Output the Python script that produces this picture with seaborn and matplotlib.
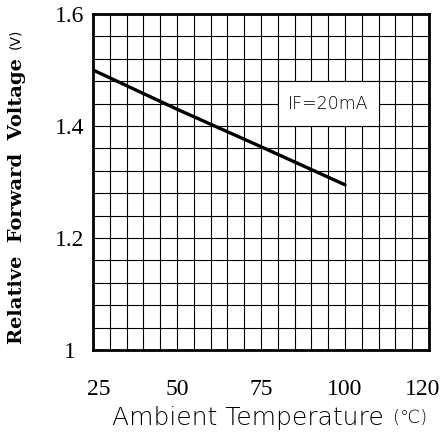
import numpy as np
import pandas as pd
import seaborn as sns
import matplotlib.pyplot as plt
import matplotlib.transforms as mtransforms
from matplotlib.patches import Rectangle

# values
temp = [25, 50, 75, 100]
vf = [1.50, 1.430, 1.363, 1.295]
x_ticks = [25, 50, 75, 100, 125]
x_ticklabels = ['25', '50', '75', '100', '120']
y_ticks = [1.0, 1.2, 1.4, 1.6]
y_ticklabels = ['1', '1.2', '1.4', '1.6']

df = pd.DataFrame({'temp': temp, 'vf': vf})

sns.set_style("white")
plt.rcParams['text.color'] = 'black'
plt.rcParams['xtick.color'] = 'black'
plt.rcParams['ytick.color'] = 'black'

fig = plt.figure(figsize=(4.42, 4.36), dpi=100)
ax = fig.add_axes([93 / 442, 1 - 350 / 436, 336 / 442, 336 / 436])

ax.set_xlim(25, 125)
ax.set_ylim(1.0, 1.6)

# grid: 20 columns x 15 rows
ax.set_xticks(np.linspace(25, 125, 21), minor=True)
ax.set_yticks(np.linspace(1.0, 1.6, 16), minor=True)
ax.grid(which='both', color='black', linewidth=0.8, zorder=0)
ax.set_axisbelow(True)

sns.lineplot(data=df, x='temp', y='vf', color='black', linewidth=2.4, ax=ax, zorder=3)

# white label box, bordered by grid lines
ax.add_patch(Rectangle((80, 1.40), 30, 0.08, facecolor='white', edgecolor='black',
                       linewidth=0.8, zorder=2))
ax.text(95, 1.44, 'IF=20mA', ha='center', va='center', fontsize=12.5,
        family='DejaVu Sans', fontweight='light', zorder=4)

ax.set_xticks(x_ticks)
ax.set_xticklabels(x_ticklabels, family='Liberation Serif', fontsize=17)
ax.set_yticks(y_ticks)
ax.set_yticklabels(y_ticklabels, family='Liberation Serif', fontsize=17, ha='center')
ax.tick_params(axis='x', which='both', length=0, pad=21)
ax.tick_params(axis='y', which='both', length=0, pad=17)

# end labels sit a little inward in the reference
xl = ax.get_xticklabels()
xl[0].set_transform(xl[0].get_transform() + mtransforms.ScaledTranslation(6 / 100, 0, fig.dpi_scale_trans))
xl[-1].set_transform(xl[-1].get_transform() + mtransforms.ScaledTranslation(-6 / 100, 0, fig.dpi_scale_trans))

for s in ax.spines.values():
    s.set_visible(True)
    s.set_color('black')
    s.set_linewidth(2)

ax.set_xlabel('')
ax.set_ylabel('')

fig.text(17 / 442, 1 - 201 / 436, 'Relative  Forward  Voltage', rotation=90,
         ha='center', va='center', family='DejaVu Serif', fontweight='bold',
         fontsize=14)
fig.text(15 / 442, 1 - 39 / 436, '(V)', rotation=90, ha='center', va='center',
         family='DejaVu Sans', fontsize=10)
fig.text(248 / 442, 1 - 418 / 436, 'Ambient Temperature', ha='center', va='center',
         family='DejaVu Sans', fontweight='ultralight', fontsize=18)
fig.text(410 / 442, 1 - 418 / 436, '(℃)', ha='center', va='center',
         family='DejaVu Sans', fontweight='ultralight', fontsize=13)

fig.savefig('out.png', dpi=100)
